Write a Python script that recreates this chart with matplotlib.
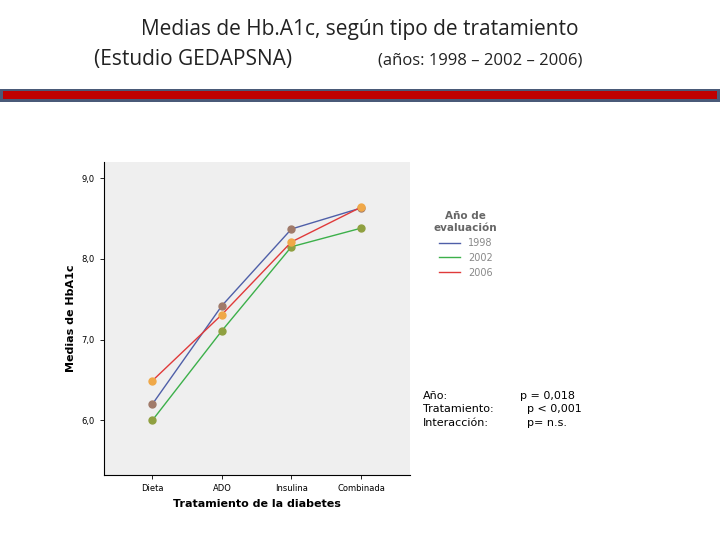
import matplotlib
matplotlib.use("Agg")
import matplotlib.pyplot as plt
from matplotlib.patches import Rectangle

categories = ["Dieta", "ADO", "Insulina", "Combinada"]
years = ["1998", "2002", "2006"]
v1998 = [6.20, 7.42, 8.37, 8.63]
v2002 = [6.00, 7.11, 8.15, 8.38]
v2006 = [6.49, 7.31, 8.21, 8.64]
yticks = [6.0, 7.0, 8.0, 9.0]
ytick_labels = ["6,0", "7,0", "8,0", "9,0"]

fig = plt.figure(figsize=(7.2, 5.4), dpi=100)
fig.patch.set_facecolor("white")

fig.text(0.5, 0.945, "Medias de Hb.A1c, según tipo de tratamiento", ha="center", va="center",
         fontsize=15, family="Open Sans", color="#222222")
fig.text(0.13, 0.89, "(Estudio GEDAPSNA)", ha="left", va="center", fontsize=15,
         family="Open Sans", color="#222222")
fig.text(0.525, 0.888, "(años: 1998 – 2002 – 2006)", ha="left", va="center", fontsize=12,
         family="Open Sans", color="#222222")

fig.patches.append(Rectangle((0.0, 0.812), 1.0, 0.024, transform=fig.transFigure,
                             facecolor="#4a5a78", edgecolor="none"))
fig.patches.append(Rectangle((0.004, 0.816), 0.992, 0.016, transform=fig.transFigure,
                             facecolor="#c00000", edgecolor="none"))

ax = fig.add_axes([0.144, 0.12, 0.425, 0.58])
ax.set_facecolor("#efefef")
x = list(range(len(categories)))
series = [(v1998, "#4f5fa8", "#a07a6a"), (v2002, "#3cb04a", "#8fa040"), (v2006, "#e03a3a", "#f0a848")]
for (vals, lc, mc), yr in zip(series, years):
    ax.plot(x, vals, color=lc, lw=1, marker="o", ms=5, mfc=mc, mec=mc, label=yr)
ax.set_xlim(-0.7, 3.7)
ax.set_ylim(5.32, 9.2)
ax.set_xticks(x)
ax.set_xticklabels(categories, fontsize=6)
ax.set_yticks(yticks)
ax.set_yticklabels(ytick_labels, fontsize=6)
ax.set_xlabel("Tratamiento de la diabetes", fontsize=8, fontweight="bold")
ax.set_ylabel("Medias de HbA1c", fontsize=8, fontweight="bold")
for s in ["top", "right"]:
    ax.spines[s].set_visible(False)
ax.tick_params(length=3, width=0.6)

leg = ax.legend(loc="upper left", bbox_to_anchor=(1.05, 0.87), frameon=False, fontsize=7,
                title="Año de\nevaluación", title_fontsize=7.5, handlelength=2.2,
                labelcolor="#888888")
leg.get_title().set_fontweight("bold")
leg.get_title().set_color("#666666")
leg.get_title().set_multialignment("center")
for line in leg.get_lines():
    line.set_marker("")

fig.text(0.588, 0.242, "Año:\nTratamiento:\nInteracción:", ha="left", va="center",
         fontsize=8, linespacing=1.45)
fig.text(0.722, 0.242, "p = 0,018\n  p < 0,001\n  p= n.s.", ha="left", va="center",
         fontsize=8, linespacing=1.45)

fig.savefig("out.png", dpi=100)
